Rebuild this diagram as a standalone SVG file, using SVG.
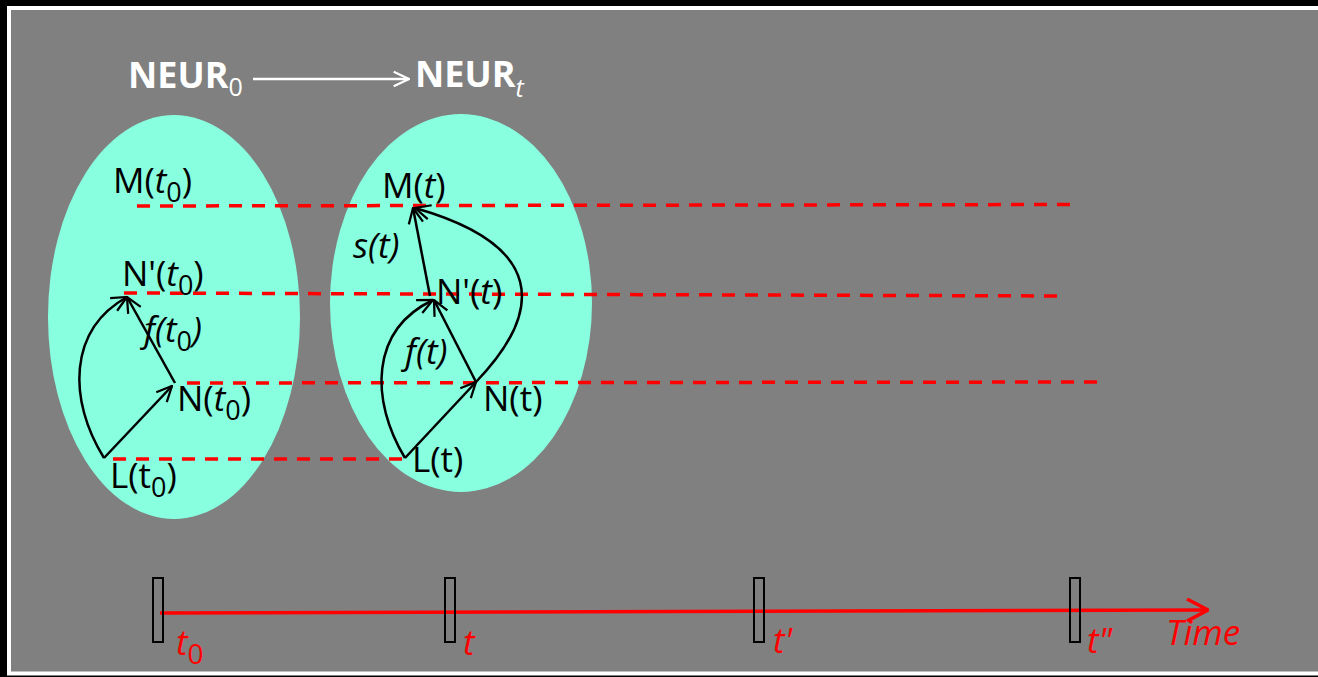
<svg xmlns="http://www.w3.org/2000/svg" width="1318" height="677" viewBox="0 0 1318 677">
<defs>
<style>
.lbl{font-family:"Open Sans","Liberation Sans",sans-serif;font-size:35px;fill:#000}
.it{font-style:italic}
.sub{font-size:27px;font-style:normal}
.title{font-family:"Open Sans","Liberation Sans",sans-serif;font-size:36px;font-weight:bold;fill:#fff}
.red{font-family:"Open Sans","Liberation Sans",sans-serif;font-size:35px;font-style:italic;fill:#f00}
.dash{stroke:#f00;stroke-width:3.5;stroke-dasharray:13 10;fill:none}
.arr{stroke:#000;stroke-width:2.5;fill:none;marker-end:url(#ah)}
.ell{fill:#88FFDE}
.tick{fill:none;stroke:#000;stroke-width:2}
</style>
<marker id="ah" viewBox="0 0 20 20" refX="19" refY="10" markerWidth="18" markerHeight="18" markerUnits="userSpaceOnUse" orient="auto">
<path d="M2,2 L19,10 L2,18" fill="none" stroke="#000" stroke-width="2.5"/>
</marker>
<marker id="wh" viewBox="0 0 20 20" refX="19" refY="10" markerWidth="18" markerHeight="18" markerUnits="userSpaceOnUse" orient="auto">
<path d="M2,2 L19,10 L2,18" fill="none" stroke="#fff" stroke-width="2.5"/>
</marker>
<marker id="rh" viewBox="0 0 24 24" refX="23" refY="12" markerWidth="24" markerHeight="24" markerUnits="userSpaceOnUse" orient="auto">
<path d="M2,1 L23,12 L2,23" fill="none" stroke="#f00" stroke-width="3.5"/>
</marker>
</defs>
<rect x="0" y="0" width="1318" height="677" fill="#000"/>
<rect x="9" y="8" width="1322" height="665.5" fill="#808080" stroke="#fff" stroke-width="4"/>

<g id="neur0">
<text class="title" x="128" y="88">NEUR<tspan font-weight="normal" font-size="25" dy="8">0</tspan></text>
</g>
<g id="neurt">
<text class="title" x="415" y="87">NEUR<tspan font-weight="normal" font-style="italic" font-size="25" dy="10">t</tspan></text>
</g>

<g id="ellipse0"><ellipse class="ell" cx="174" cy="317" rx="126" ry="202"/></g>
<g id="ellipset"><ellipse class="ell" cx="461" cy="303" rx="131" ry="189"/></g>

<g id="timeline">
<line x1="160" y1="613" x2="1208" y2="610" stroke="#f00" stroke-width="3.5" marker-end="url(#rh)"/>
<rect class="tick" x="153" y="578" width="10" height="64"/>
<rect class="tick" x="445" y="578" width="10" height="64"/>
<rect class="tick" x="754" y="578" width="10" height="64"/>
<rect class="tick" x="1070" y="578" width="10" height="64"/>
</g>

<g id="connectors">
<line class="dash" x1="137" y1="206" x2="1072" y2="204.5"/>
<line class="dash" x1="124" y1="293" x2="1066" y2="296"/>
<line class="dash" x1="187" y1="383" x2="1105" y2="382"/>
<line class="dash" x1="113" y1="459" x2="405" y2="459"/>
<line x1="253" y1="79" x2="409" y2="79" stroke="#fff" stroke-width="2.5" marker-end="url(#wh)"/>
<line class="arr" x1="104" y1="458" x2="172" y2="386"/>
<line class="arr" x1="175" y1="383" x2="127" y2="297"/>
<path class="arr" d="M104,458 C68,400 68,330 127,297"/>
<line class="arr" x1="405" y1="458" x2="476" y2="382"/>
<line class="arr" x1="476" y1="382" x2="434" y2="300"/>
<path class="arr" d="M405,458 C370,400 370,330 433,300"/>
<line class="arr" x1="430" y1="296" x2="413" y2="208"/>
<path class="arr" d="M476,382 C545,310 545,245 415,208"/>
</g>

<g id="M_t0"><text class="lbl" x="113" y="193">M(<tspan class="it">t</tspan><tspan class="sub" dy="9">0</tspan><tspan dy="-9">)</tspan></text></g>
<g id="Np_t0"><text class="lbl" x="122" y="286">N'(<tspan class="it">t</tspan><tspan class="sub" dy="9">0</tspan><tspan dy="-9">)</tspan></text></g>
<g id="f_t0"><text class="lbl it" x="144" y="342">f(t<tspan class="sub" dy="9">0</tspan><tspan dy="-9">)</tspan></text></g>
<g id="N_t0"><text class="lbl" x="177" y="411">N(<tspan class="it">t</tspan><tspan class="sub" dy="9">0</tspan><tspan dy="-9">)</tspan></text></g>
<g id="L_t0"><text class="lbl" x="110" y="488">L(t<tspan class="sub" dy="9">0</tspan><tspan dy="-9">)</tspan></text></g>

<g id="M_t"><text class="lbl" x="382" y="198">M(<tspan class="it">t</tspan>)</text></g>
<g id="s_t"><text class="lbl it" x="353" y="258">s(t)</text></g>
<g id="Np_t"><text class="lbl" x="436" y="304">N'(<tspan class="it">t</tspan>)</text></g>
<g id="f_t"><text class="lbl it" x="405" y="364">f(t)</text></g>
<g id="N_t"><text class="lbl" x="483" y="411">N(t)</text></g>
<g id="L_t"><text class="lbl" x="412" y="472">L(t)</text></g>

<g id="labels_time">
<text class="red" x="176" y="655">t<tspan font-size="28" font-style="normal" dy="9">0</tspan></text>
<text class="red" x="463" y="655">t</text>
<text class="red" x="773" y="653">t'</text>
<text class="red" x="1087" y="653">t"</text>
<text class="red" x="1166" y="645" font-size="33">Time</text>
</g>
</svg>
